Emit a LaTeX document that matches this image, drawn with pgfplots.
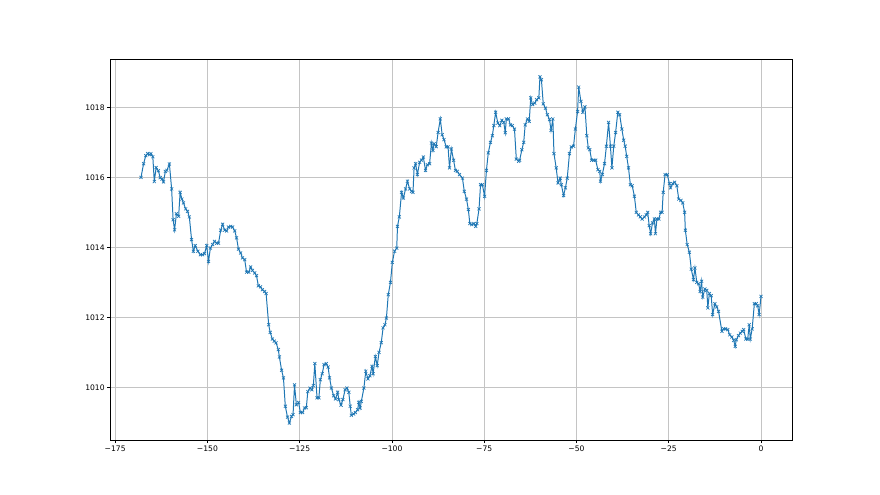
\documentclass[border=0pt]{standalone}
\usepackage{fontspec}
\setmainfont{DejaVu Sans}
\usepackage{pgfplots}
\pgfplotsset{compat=1.18}
\definecolor{mplblue}{HTML}{1F77B4}
\definecolor{mplgrid}{HTML}{C4C4C4}

\begin{document}
\begin{tikzpicture}
\path[use as bounding box] (0,0) rectangle (1152bp,648bp);
\begin{axis}[
  at={(144bp,71.28bp)}, anchor=south west,
  scale only axis, width=892.8bp, height=498.96bp,
  xmin=-176.4, xmax=8.4, ymin=1008.49, ymax=1019.38,
  xtick={-175,-150,-125,-100,-75,-50,-25,0},
  xticklabels={−175,−150,−125,−100,−75,−50,−25,0},
  ytick={1010,1012,1014,1016,1018},
  yticklabels={1010,1012,1014,1016,1018},
  tick pos=left, tick align=outside,
  major tick length=3.5bp,
  every tick/.style={black, line width=0.8bp},
  axis line style={black, line width=0.8bp},
  grid=major, grid style={mplgrid, line width=0.7bp},
  ticklabel style={font=\fontsize{10}{12}\selectfont},
]
\addplot[mplblue, line width=1.3bp, mark=x, mark size=2.8bp,
  mark options={line width=0.9bp}] coordinates {
(-168.0,1016.01)(-167.3,1016.4)(-166.7,1016.63)(-166.2,1016.69)(-165.7,1016.66)
(-165.3,1016.69)(-164.8,1016.6)(-164.4,1015.89)(-163.9,1016.29)(-163.3,1016.2)
(-162.8,1016.0)(-162.3,1015.96)(-161.9,1015.88)(-161.4,1016.18)(-161.0,1016.21)
(-160.3,1016.39)(-159.7,1015.68)(-159.3,1014.8)(-158.9,1014.51)(-158.4,1014.97)
(-157.8,1014.9)(-157.4,1015.58)(-156.9,1015.39)(-156.5,1015.28)(-155.9,1015.11)
(-155.4,1015.04)(-154.9,1014.88)(-154.3,1014.23)(-153.8,1013.9)(-153.3,1014.06)
(-152.6,1013.9)
(-151.9,1013.8)(-151.3,1013.8)(-150.8,1013.83)(-150.2,1014.06)(-149.7,1013.61)
(-149.2,1013.99)(-148.6,1014.09)(-148.1,1014.18)(-147.5,1014.13)(-147.0,1014.13)
(-146.4,1014.5)(-145.9,1014.67)(-145.3,1014.5)(-144.8,1014.48)(-144.3,1014.59)
(-143.7,1014.61)(-143.2,1014.59)(-142.6,1014.48)(-142.1,1014.28)(-141.6,1013.96)
(-141.0,1013.85)(-140.5,1013.71)(-139.9,1013.66)(-139.4,1013.3)(-138.8,1013.3)
(-138.3,1013.45)(-137.8,1013.35)(-137.2,1013.28)(-136.7,1013.2)(-136.2,1012.91)
(-135.6,1012.88)(-135.1,1012.8)(-134.5,1012.75)
(-134.1,1012.69)(-133.4,1011.8)(-133.0,1011.58)(-132.4,1011.39)(-131.9,1011.33)
(-131.4,1011.28)(-130.8,1011.09)(-130.5,1010.88)(-129.9,1010.5)(-129.4,1010.28)
(-128.9,1009.47)(-128.3,1009.16)(-127.8,1008.99)(-127.2,1009.18)(-126.8,1009.23)
(-126.4,1010.08)(-125.9,1009.51)(-125.3,1009.58)(-124.8,1009.29)(-124.2,1009.29)
(-123.7,1009.42)(-123.2,1009.43)(-122.8,1009.89)(-122.2,1009.99)(-121.7,1009.94)
(-121.3,1010.06)(-120.9,1010.69)(-120.3,1009.71)(-119.8,1009.71)(-119.4,1010.23)
(-118.9,1010.4)(-118.4,1010.66)(-117.8,1010.69)(-117.3,1010.59)
(-116.9,1010.28)(-116.4,1009.99)(-115.8,1009.77)(-115.3,1009.68)(-114.7,1009.87)
(-114.4,1009.66)(-113.8,1009.5)(-113.3,1009.66)(-112.7,1009.94)(-112.2,1009.99)
(-111.7,1009.87)(-111.3,1009.47)(-111.0,1009.21)(-110.4,1009.25)(-109.9,1009.29)
(-109.3,1009.37)(-109.0,1009.58)(-108.6,1009.42)(-108.3,1009.61)(-107.6,1009.99)
(-107.1,1010.47)(-106.5,1010.25)(-106.0,1010.34)(-105.4,1010.61)(-105.1,1010.4)
(-104.5,1010.89)(-104.0,1010.63)(-103.5,1011.01)(-102.9,1011.29)(-102.4,1011.71)
(-101.9,1011.8)(-101.5,1011.99)(-101.0,1012.66)(-100.4,1013.01)(-99.9,1013.58)
(-99.3,1013.9)
(-98.7,1013.99)(-98.5,1014.61)(-98.0,1014.88)(-97.4,1015.58)(-96.9,1015.42)
(-96.3,1015.68)(-95.8,1015.9)(-95.2,1015.68)(-94.7,1015.61)(-94.3,1015.58)
(-94.0,1016.28)(-93.6,1016.4)(-93.1,1016.09)(-92.5,1016.44)(-92.0,1016.5)
(-91.5,1016.59)(-90.9,1016.21)(-90.4,1016.37)(-89.8,1016.4)(-89.3,1016.99)
(-88.9,1016.78)(-88.6,1016.97)(-88.0,1016.89)(-87.5,1017.29)(-86.9,1017.68)
(-86.4,1017.23)(-85.9,1017.09)(-85.3,1016.88)(-84.8,1016.88)(-84.4,1016.28)
(-83.9,1016.82)(-83.3,1016.5)(-82.8,1016.21)(-82.3,1016.18)(-81.7,1016.09)
(-80.9,1015.99)(-80.4,1015.61)(-79.8,1015.39)(-79.3,1015.09)(-78.9,1014.69)
(-78.4,1014.66)(-77.8,1014.69)(-77.3,1014.61)(-77.0,1014.69)(-76.4,1015.11)
(-76.0,1015.8)(-75.5,1015.8)(-74.9,1015.47)(-74.4,1016.21)(-73.9,1016.71)
(-73.3,1017.01)(-72.8,1017.2)(-72.4,1017.49)(-71.9,1017.87)(-71.3,1017.56)
(-70.8,1017.49)(-70.2,1017.64)(-69.7,1017.58)(-69.3,1017.29)(-69.0,1017.68)
(-68.4,1017.68)(-67.9,1017.51)(-67.4,1017.49)(-66.8,1017.39)(-66.3,1016.53)
(-65.7,1016.47)(-65.4,1016.5)(-64.8,1016.8)(-64.3,1017.01)(-63.9,1017.51)
(-63.3,1017.68)(-62.8,1017.61)(-62.4,1018.28)(-61.9,1018.09)(-61.3,1018.13)
(-60.8,1018.23)(-60.2,1018.28)(-59.9,1018.88)(-59.5,1018.8)(-59.0,1018.11)
(-58.4,1017.99)(-57.9,1017.8)(-57.3,1017.66)(-56.9,1017.35)(-56.4,1017.68)
(-56.1,1016.69)(-55.5,1016.28)(-55.0,1015.85)(-54.4,1015.99)(-54.1,1015.8)
(-53.5,1015.49)(-53.0,1015.71)(-52.5,1015.99)(-51.9,1016.69)(-51.4,1016.88)
(-50.8,1016.9)(-50.3,1017.39)(-49.7,1017.89)(-49.4,1018.59)(-48.8,1018.18)
(-48.3,1017.87)(-47.7,1018.02)(-47.2,1017.2)
(-46.8,1016.85)(-46.4,1016.8)(-45.9,1016.5)(-45.3,1016.5)(-44.8,1016.5)
(-44.2,1016.23)(-43.7,1016.18)(-43.5,1015.9)(-43.0,1016.09)(-42.4,1016.4)
(-41.9,1016.9)(-41.3,1017.58)(-40.8,1016.9)(-40.4,1016.28)(-39.9,1016.9)
(-39.4,1017.29)(-38.8,1017.87)(-38.3,1017.8)(-37.7,1017.39)(-37.2,1017.07)
(-36.8,1016.9)(-36.4,1016.61)(-35.9,1016.28)(-35.4,1015.8)(-34.9,1015.77)
(-34.3,1015.47)(-33.8,1015.01)(-33.2,1014.94)(-32.7,1014.88)(-32.2,1014.82)
(-31.6,1014.88)(-31.1,1014.94)(-30.7,1015.01)(-30.3,1014.63)(-29.9,1014.4)
(-29.4,1014.71)(-28.9,1014.82)
(-28.6,1014.4)(-28.2,1014.82)(-27.7,1014.82)(-27.2,1015.01)(-26.8,1015.01)
(-26.5,1015.58)(-26.0,1016.09)(-25.4,1016.09)(-24.8,1015.83)(-24.5,1015.71)
(-23.9,1015.83)(-23.4,1015.87)(-22.8,1015.77)(-22.3,1015.39)(-21.7,1015.35)
(-21.2,1015.28)(-20.7,1015.01)(-20.5,1014.5)(-20.0,1014.09)(-19.4,1013.87)
(-18.9,1013.39)(-18.3,1013.09)(-17.9,1013.42)(-17.4,1013.01)(-16.9,1012.97)
(-16.5,1012.75)(-16.1,1013.04)(-15.8,1012.59)(-15.2,1012.82)(-14.7,1012.78)
(-14.4,1012.28)(-14.0,1012.69)(-13.5,1012.63)(-13.1,1012.09)(-12.5,1012.4)
(-12.0,1012.31)(-11.5,1012.18)
(-10.6,1011.61)(-10.1,1011.68)(-9.6,1011.68)(-9.0,1011.66)(-8.5,1011.51)
(-7.9,1011.45)(-7.4,1011.35)(-7.0,1011.18)(-6.7,1011.37)(-6.1,1011.49)
(-5.6,1011.56)(-5.1,1011.61)(-4.7,1011.66)(-4.1,1011.39)(-3.6,1011.39)
(-3.2,1011.8)(-2.9,1011.39)(-2.4,1011.68)(-1.8,1012.4)(-1.3,1012.4)
(-0.9,1012.34)(-0.5,1012.09)(0.0,1012.61)
};
\end{axis}
\end{tikzpicture}
\end{document}
